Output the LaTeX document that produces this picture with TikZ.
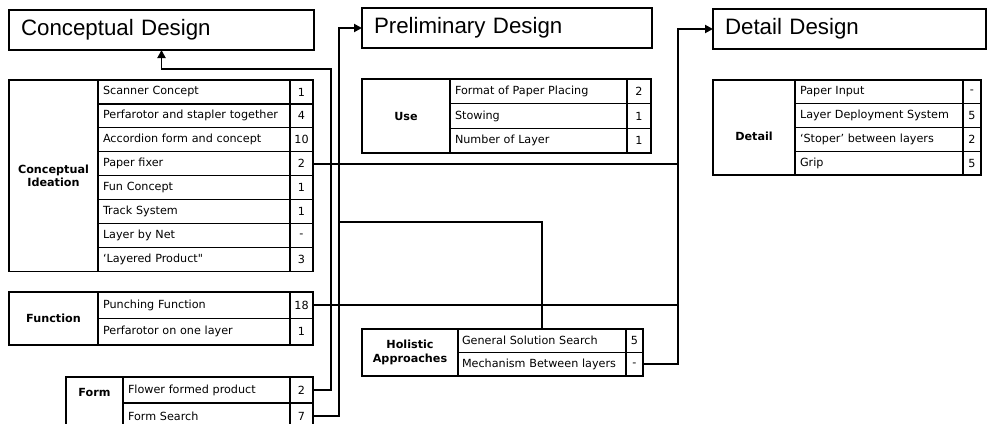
\documentclass[tikz,border=0pt]{standalone}
\usepackage{fontspec}
\setmainfont{DejaVu Sans}
\newfontfamily\headfont{Liberation Sans}
\usetikzlibrary{arrows.meta,positioning}
\tikzset{
  heading/.style={rectangle,draw,line width=1.5pt,outer sep=0pt,anchor=north west,inner xsep=12pt,minimum height=40pt,align=left,font=\headfont\fontsize{22.3}{25}\selectfont},
  cell/.style={rectangle,draw,line width=1.3pt,outer sep=0pt,inner xsep=5pt,inner ysep=0pt,font=\fontsize{11.2}{13.5}\selectfont},
  item/.style={cell,align=left},
  num/.style={cell,inner xsep=0pt,align=center},
  label/.style={cell,align=center,font=\bfseries\fontsize{11.2}{13.5}\selectfont},
  wire/.style={line width=1.9pt},
  arrow/.style={-{Triangle[length=8pt,width=8pt]},line width=1.9pt},
}
\begin{document}
\begin{tikzpicture}[x=1pt,y=-1pt]
  \useasboundingbox (0,0) rectangle (987,423);
  % phase headings
  \node[heading,text width=281pt] (concept) at (9,10) {Conceptual Design};
  \node[heading,text width=266pt] (prelim) at (362,8) {Preliminary Design};
  \node[heading,text width=249pt] (detail) at (713,9) {Detail Design};

  % conceptual ideation
  \node[item,text width=182pt,minimum height=23.9pt,anchor=north west] (ci1) at (98,80) {Scanner Concept};
  \node[item,text width=182pt,minimum height=23.9pt,below=0pt of ci1] (ci2) {Perfarotor and stapler together};
  \node[item,text width=182pt,minimum height=23.9pt,below=0pt of ci2] (ci3) {Accordion form and concept};
  \node[item,text width=182pt,minimum height=23.9pt,below=0pt of ci3] (ci4) {Paper fixer};
  \node[item,text width=182pt,minimum height=23.9pt,below=0pt of ci4] (ci5) {Fun Concept};
  \node[item,text width=182pt,minimum height=23.9pt,below=0pt of ci5] (ci6) {Track System};
  \node[item,text width=182pt,minimum height=23.9pt,below=0pt of ci6] (ci7) {Layer by Net};
  \node[item,text width=182pt,minimum height=23.9pt,below=0pt of ci7] (ci8) {‘Layered Product\textquotedbl};
  \node[num,minimum width=23pt,minimum height=23.9pt,right=0pt of ci1] (cn1) {1};
  \node[num,minimum width=23pt,minimum height=23.9pt,right=0pt of ci2] (cn2) {4};
  \node[num,minimum width=23pt,minimum height=23.9pt,right=0pt of ci3] (cn3) {10};
  \node[num,minimum width=23pt,minimum height=23.9pt,right=0pt of ci4] (cn4) {2};
  \node[num,minimum width=23pt,minimum height=23.9pt,right=0pt of ci5] (cn5) {1};
  \node[num,minimum width=23pt,minimum height=23.9pt,right=0pt of ci6] (cn6) {1};
  \node[num,minimum width=23pt,minimum height=23.9pt,right=0pt of ci7] (cn7) {-};
  \node[num,minimum width=23pt,minimum height=23.9pt,right=0pt of ci8] (cn8) {3};
  \node[label,minimum width=89pt,minimum height=191.2pt,anchor=north east] (ideation) at (ci1.north west) {Conceptual\\Ideation};

  % function
  \node[item,text width=182pt,minimum height=26.5pt,anchor=north west] (fu1) at (98,292) {Punching Function};
  \node[item,text width=182pt,minimum height=26.5pt,below=0pt of fu1] (fu2) {Perfarotor on one layer};
  \node[num,minimum width=23pt,minimum height=26.5pt,right=0pt of fu1] (fn1) {18};
  \node[num,minimum width=23pt,minimum height=26.5pt,right=0pt of fu2] (fn2) {1};
  \node[label,minimum width=89pt,minimum height=53pt,anchor=north east] (function) at (fu1.north west) {Function};

  % form
  \node[item,text width=157pt,minimum height=26pt,anchor=north west] (fo1) at (123,377) {Flower formed product};
  \node[item,text width=157pt,minimum height=26pt,below=0pt of fo1] (fo2) {Form Search};
  \node[num,minimum width=23pt,minimum height=26pt,right=0pt of fo1] (on1) {2};
  \node[num,minimum width=23pt,minimum height=26pt,right=0pt of fo2] (on2) {7};
  \node[label,minimum width=57pt,minimum height=52pt,text depth=22pt,anchor=north east] (form) at (fo1.north west) {Form};

  % use
  \node[item,text width=167pt,minimum height=24.7pt,anchor=north west] (us1) at (450,79) {Format of Paper Placing};
  \node[item,text width=167pt,minimum height=24.7pt,below=0pt of us1] (us2) {Stowing};
  \node[item,text width=167pt,minimum height=24.7pt,below=0pt of us2] (us3) {Number of Layer};
  \node[num,minimum width=24pt,minimum height=24.7pt,right=0pt of us1] (un1) {2};
  \node[num,minimum width=24pt,minimum height=24.7pt,right=0pt of us2] (un2) {1};
  \node[num,minimum width=24pt,minimum height=24.7pt,right=0pt of us3] (un3) {1};
  \node[label,minimum width=88pt,minimum height=74.1pt,anchor=north east] (use) at (us1.north west) {Use};

  % holistic approaches
  \node[item,text width=160pt,inner xsep=4pt,minimum height=23.5pt,anchor=north west] (ho1) at (458,329) {General Solution Search};
  \node[item,text width=160pt,inner xsep=4pt,minimum height=23.5pt,below=0pt of ho1] (ho2) {Mechanism Between layers};
  \node[num,minimum width=17pt,minimum height=23.5pt,right=0pt of ho1] (hn1) {5};
  \node[num,minimum width=17pt,minimum height=23.5pt,right=0pt of ho2] (hn2) {-};
  \node[label,minimum width=96pt,minimum height=47pt,anchor=north east] (holistic) at (ho1.north west) {Holistic\\Approaches};

  % detail
  \node[item,text width=158pt,minimum height=23.75pt,anchor=north west] (de1) at (795,80) {Paper Input};
  \node[item,text width=158pt,minimum height=23.75pt,below=0pt of de1] (de2) {Layer Deployment System};
  \node[item,text width=158pt,minimum height=23.75pt,below=0pt of de2] (de3) {‘Stoper’ between layers};
  \node[item,text width=158pt,minimum height=23.75pt,below=0pt of de3] (de4) {Grip};
  \node[num,minimum width=18pt,minimum height=23.75pt,right=0pt of de1] (dn1) {-};
  \node[num,minimum width=18pt,minimum height=23.75pt,right=0pt of de2] (dn2) {5};
  \node[num,minimum width=18pt,minimum height=23.75pt,right=0pt of de3] (dn3) {2};
  \node[num,minimum width=18pt,minimum height=23.75pt,right=0pt of de4] (dn4) {5};
  \node[label,minimum width=82pt,minimum height=95pt,text height=26pt,anchor=north east] (details) at (de1.north west) {Detail};

  % connectors
  \coordinate (loopback) at (331,69);
  \coordinate (topre) at (339,28);
  \coordinate (joinpre) at (339,222);
  \coordinate (todet) at (678,29);
  \draw[arrow] (on1.east) -| (loopback) -| (concept.south);
  \draw[arrow] (on2.east) -| (topre) -- (prelim.west);
  \draw[wire] (ho1.north) |- (joinpre);
  \draw[wire] (cn4.east) -- (cn4.east -| todet);
  \draw[wire] (fn1.east) -- (fn1.east -| todet);
  \draw[arrow] (hn2.east) -| (todet) -- (detail.west);
\end{tikzpicture}
\end{document}
